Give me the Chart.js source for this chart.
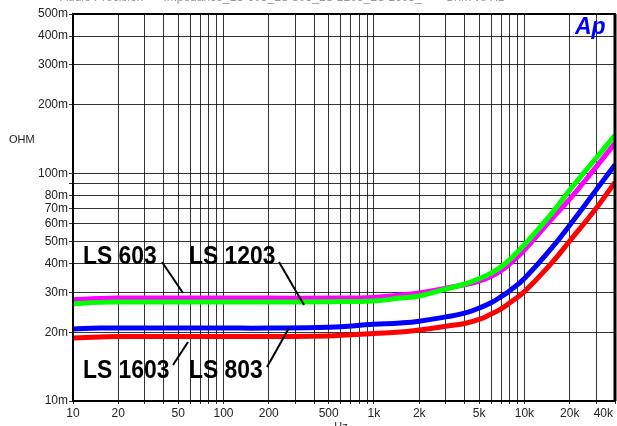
<!DOCTYPE html>
<html>
<head>
<meta charset="utf-8">
<script src="https://cdn.jsdelivr.net/npm/chart.js@4.4.0/dist/chart.umd.min.js"></script>
<style>
	html, body { margin: 0; padding: 0; background: #fff; }
	#wrap { width: 617px; height: 426px; }
</style>
</head>
<body>
<div id="wrap"><canvas id="impChart" width="617" height="426"></canvas></div>
<script>
// frequency points (Hz) and impedance (milliohm)
const freqs = [10, 15, 20, 50, 100, 200, 500, 1000, 1500, 2000, 3000, 4000, 5000, 6000, 7000, 8000, 10000, 15000, 20000, 30000, 40000];
const ls1203 = [26.7, 27.1, 27.2, 27.2, 27.2, 27.2, 27.3, 27.5, 28.3, 28.9, 31.0, 32.6, 34.4, 36.4, 38.8, 41.8, 48.5, 66.0, 84.3, 116.6, 147];
const ls603 = [27.8, 28.2, 28.3, 28.3, 28.3, 28.3, 28.3, 28.5, 29.2, 29.8, 31.3, 32.4, 33.6, 35.2, 37.3, 40.0, 46.0, 62.4, 77.0, 106.6, 135.6];
const ls803 = [20.7, 20.9, 20.9, 20.9, 20.9, 20.9, 21.1, 21.7, 22.0, 22.4, 23.4, 24.3, 25.6, 27.0, 28.7, 30.5, 34.5, 46.5, 59.1, 84.5, 108.9];
const ls1603 = [18.9, 19.1, 19.2, 19.2, 19.2, 19.2, 19.3, 19.8, 20.1, 20.5, 21.3, 21.9, 22.8, 24.1, 25.4, 27.0, 30.2, 40.0, 50.4, 70.2, 91.4];

const xTicks = [10, 20, 30, 40, 50, 60, 70, 80, 90, 100, 200, 300, 400, 500, 600, 700, 800, 900,
	1000, 2000, 3000, 4000, 5000, 6000, 7000, 8000, 9000, 10000, 20000, 30000, 40000];
const xLabels = { 10: '10', 20: '20', 50: '50', 100: '100', 200: '200', 500: '500', 1000: '1k', 2000: '2k',
	5000: '5k', 10000: '10k', 20000: '20k', 40000: '40k       ' };
const yTicks = [10, 20, 30, 40, 50, 60, 70, 80, 90, 100, 200, 300, 400, 500];
const yLabels = { 10: '10m', 20: '20m', 30: '30m', 40: '40m', 50: '50m', 60: '60m', 70: '70m', 80: '80m',
	100: '100m', 200: '200m', 300: '300m', 400: '400m', 500: '500m' };

function pts(arr) {
	return freqs.map((f, i) => ({ x: f, y: arr[i] }));
}

Chart.defaults.font.family = "'Liberation Sans', Arial, sans-serif";
Chart.defaults.font.size = 12;
Chart.defaults.color = '#222';

const gridColor = 'rgba(0,0,0,0.8)';

function label(c, txt, x, y) {
	c.save();
	c.translate(x, y);
	c.scale(0.88, 1);
	c.fillText(txt, 0, 0);
	c.restore();
}

const overlay = {
	id: 'overlay',
	afterDatasetsDraw(chart) {
		const c = chart.ctx;
		const a = chart.chartArea;
		c.save();
		// frame
		c.strokeStyle = '#000';
		c.lineWidth = 2;
		c.strokeRect(a.left, a.top, a.right - a.left, a.bottom - a.top);
		c.lineWidth = 3;
		c.beginPath();
		c.moveTo(a.right, a.top);
		c.lineTo(a.right, a.bottom);
		c.stroke();

		// series labels with pointers
		c.fillStyle = '#000';
		c.font = "bold 26px 'Liberation Sans', Arial, sans-serif";
		c.textBaseline = 'alphabetic';
		c.textAlign = 'left';
		label(c, 'LS 603', 83, 264);
		label(c, 'LS 1203', 189, 264);
		label(c, 'LS 1603', 83, 378);
		label(c, 'LS 803', 189, 378);
		c.lineWidth = 2;
		const ptr = [[162, 262, 183, 293], [279, 262, 304, 305], [173, 365, 188, 342], [267, 367, 289, 328]];
		ptr.forEach(p => {
			c.beginPath();
			c.moveTo(p[0], p[1]);
			c.lineTo(p[2], p[3]);
			c.stroke();
		});

		// Ap logo
		c.fillStyle = '#0000ff';
		c.font = "italic bold 23px 'Liberation Sans', Arial, sans-serif";
		c.fillText('Ap', 575, 34);

		// axis titles
		c.fillStyle = '#222';
		c.font = "11px 'Liberation Sans', Arial, sans-serif";
		c.textAlign = 'left';
		c.textBaseline = 'middle';
		c.fillText('OHM', 9, 140);
		c.textAlign = 'center';
		c.textBaseline = 'top';
		c.fillText('Hz', 341, 421);

		// title, mostly cut off above the page
		c.fillStyle = '#999';
		c.textAlign = 'left';
		c.textBaseline = 'alphabetic';
		c.font = "12px 'Liberation Sans', Arial, sans-serif";
		c.fillText('Audio Precision      Impedance_LS 603_LS 803_LS 1203_LS 1603_       Ohm vs Hz', 60, 0.5);
		c.restore();
	}
};

new Chart(document.getElementById('impChart').getContext('2d'), {
	type: 'line',
	data: {
		datasets: [{
			label: 'LS 1203',
			data: pts(ls1203),
			borderColor: '#00ff00'
		}, {
			label: 'LS 603',
			data: pts(ls603),
			borderColor: '#ff00ff'
		}, {
			label: 'LS 803',
			data: pts(ls803),
			borderColor: '#0000ff'
		}, {
			label: 'LS 1603',
			data: pts(ls1603),
			borderColor: '#ff0000'
		}]
	},
	options: {
		responsive: false,
		animation: false,
		layout: { padding: { top: 14, right: 2, left: 0, bottom: 0 } },
		elements: {
			line: { borderWidth: 5, fill: false, tension: 0.45 },
			point: { radius: 0 }
		},
		plugins: {
			legend: { display: false },
			tooltip: { enabled: false }
		},
		scales: {
			x: {
				type: 'logarithmic',
				min: 10,
				max: 40000,
				afterBuildTicks: axis => { axis.ticks = xTicks.map(v => ({ value: v })); },
				afterFit: axis => {
					axis.height = 25;
					axis.paddingLeft = 0;
					axis.paddingRight = 0;
				},
				border: { display: false },
				grid: { color: gridColor, lineWidth: 1, tickLength: 3 },
				ticks: {
					autoSkip: false,
					maxRotation: 0,
					padding: 2,
					color: '#222',
					callback: v => xLabels[v] || ''
				}
			},
			y: {
				type: 'logarithmic',
				min: 10,
				max: 500,
				afterBuildTicks: axis => { axis.ticks = yTicks.map(v => ({ value: v })); },
				afterFit: axis => {
					axis.width = 73;
					axis.paddingTop = 0;
					axis.paddingBottom = 0;
				},
				border: { display: false },
				grid: { color: gridColor, lineWidth: 1, tickLength: 4 },
				ticks: {
					autoSkip: false,
					padding: 1,
					color: '#222',
					callback: v => yLabels[v] || ''
				}
			}
		}
	},
	plugins: [overlay]
});
</script>
</body>
</html>
